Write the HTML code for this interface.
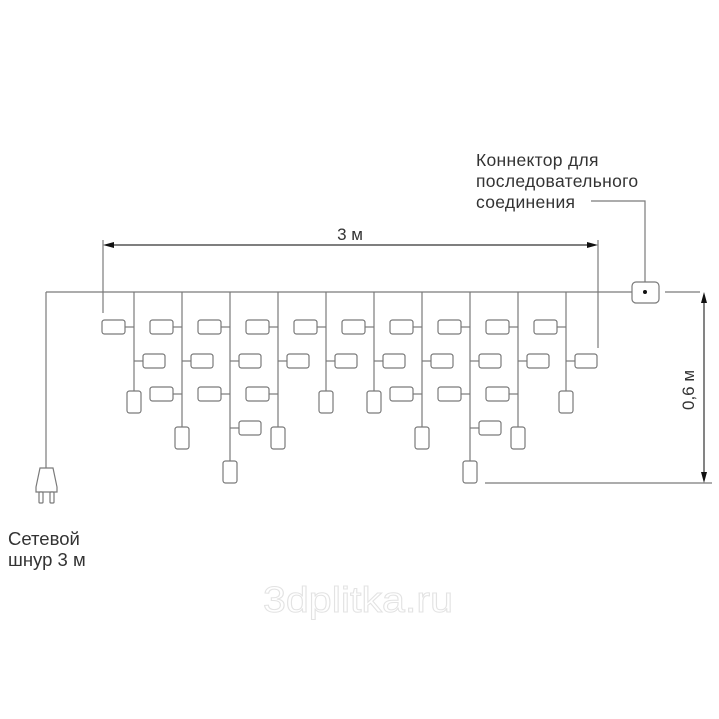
<!DOCTYPE html>
<html><head><meta charset="utf-8"><style>
html,body{margin:0;padding:0;background:#fff;}
svg{display:block;}
text{font-family:"Liberation Sans",sans-serif;fill:#333;}
</style></head><body>
<svg width="719" height="719" viewBox="0 0 719 719" xmlns="http://www.w3.org/2000/svg">
<defs>
<g id="A">
<line x1="0" y1="292" x2="0" y2="391"/>
<rect x="-32" y="320" width="23" height="14" rx="2.5"/><line x1="-9" y1="327" x2="0" y2="327"/>
<rect x="9" y="354" width="22" height="14" rx="2.5"/><line x1="0" y1="361" x2="9" y2="361"/>
<rect x="-7" y="391" width="14" height="22" rx="2.5"/>
</g>
<g id="B">
<line x1="0" y1="292" x2="0" y2="427"/>
<rect x="-32" y="320" width="23" height="14" rx="2.5"/><line x1="-9" y1="327" x2="0" y2="327"/>
<rect x="9" y="354" width="22" height="14" rx="2.5"/><line x1="0" y1="361" x2="9" y2="361"/>
<rect x="-32" y="387" width="23" height="14" rx="2.5"/><line x1="-9" y1="394" x2="0" y2="394"/>
<rect x="-7" y="427" width="14" height="22" rx="2.5"/>
</g>
<g id="C">
<line x1="0" y1="292" x2="0" y2="461"/>
<rect x="-32" y="320" width="23" height="14" rx="2.5"/><line x1="-9" y1="327" x2="0" y2="327"/>
<rect x="9" y="354" width="22" height="14" rx="2.5"/><line x1="0" y1="361" x2="9" y2="361"/>
<rect x="-32" y="387" width="23" height="14" rx="2.5"/><line x1="-9" y1="394" x2="0" y2="394"/>
<rect x="9" y="421" width="22" height="14" rx="2.5"/><line x1="0" y1="428" x2="9" y2="428"/>
<rect x="-7" y="461" width="14" height="22" rx="2.5"/>
</g>
</defs>
<text x="263" y="612" font-size="36" textLength="190" lengthAdjust="spacingAndGlyphs" style="fill:none;stroke:#e3e3e3;stroke-width:1">3dplitka.ru</text>
<g stroke="#7a7a7a" stroke-width="1.2" fill="#fff">
<line x1="46" y1="292" x2="632" y2="292"/>
<line x1="665" y1="292" x2="700" y2="292"/>
<line x1="46" y1="292" x2="46" y2="468"/>
<use href="#A" x="134"/><use href="#B" x="182"/><use href="#C" x="230"/><use href="#B" x="278"/><use href="#A" x="326"/>
<use href="#A" x="374"/><use href="#B" x="422"/><use href="#C" x="470"/><use href="#B" x="518"/><use href="#A" x="566"/>
<line x1="103" y1="240" x2="103" y2="313"/>
<line x1="598" y1="240" x2="598" y2="348"/>
<line x1="112" y1="245" x2="589" y2="245" stroke="#333"/>
<rect x="632" y="282" width="27" height="21" rx="4"/>
<polyline points="591,201 645,201 645,282" fill="none"/>
<line x1="485" y1="483" x2="712" y2="483"/>
<line x1="704" y1="300" x2="704" y2="475" stroke="#333"/>
<path d="M40 468 L53 468 L57 487 L57 492 L36 492 L36 487 Z"/>
<rect x="39" y="492" width="4" height="11" rx="1"/>
<rect x="50" y="492" width="4" height="11" rx="1"/>
</g>
<circle cx="645" cy="292" r="2" fill="#111"/>
<g fill="#111">
<path d="M103 245 L114 242 L114 248 Z"/>
<path d="M598 245 L587 242 L587 248 Z"/>
<path d="M704 292 L701 303 L707 303 Z"/>
<path d="M704 483 L701 472 L707 472 Z"/>
</g>
<text x="350" y="240" font-size="17" text-anchor="middle">3 м</text>
<text x="476" y="166" font-size="17.5" letter-spacing="0.3">Коннектор для</text>
<text x="476" y="187" font-size="17.5" letter-spacing="0.3">последовательного</text>
<text x="476" y="208" font-size="17.5" letter-spacing="0.3">соединения</text>
<text x="8" y="545" font-size="18.5">Сетевой</text>
<text x="8" y="566" font-size="18.5">шнур 3 м</text>
<text transform="translate(694,390) rotate(-90)" font-size="17" text-anchor="middle">0,6 м</text>
</svg>
</body></html>
